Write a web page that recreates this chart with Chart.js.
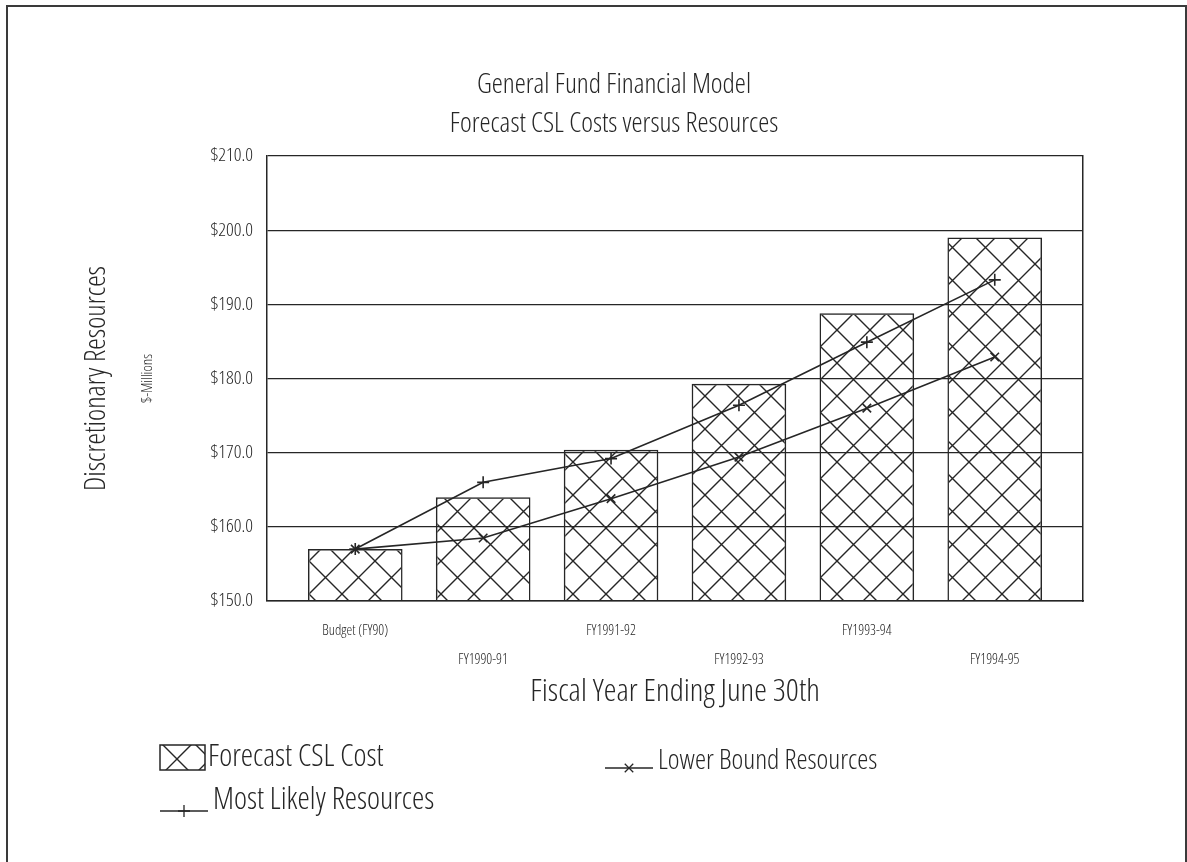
<!DOCTYPE html>
<html>
<head>
<meta charset="utf-8">
<script src="https://cdn.jsdelivr.net/npm/chart.js@4.4.1/dist/chart.umd.min.js"></script>
<style>
  html, body { margin: 0; padding: 0; background: #fff; overflow: hidden; }
  #page { position: relative; width: 1187px; height: 862px; }
  #frame { position: absolute; left: 6px; top: 5px; width: 1181px; height: 900px;
           border: 2px solid #3a3a3a; border-bottom: none; box-sizing: border-box; }
  #wrap { position: absolute; left: 45px; top: 0; width: 1138px; height: 862px; }
</style>
</head>
<body>
<div id="page">
  <div id="frame"></div>
  <div id="wrap"><canvas id="c" width="1138" height="862"></canvas></div>
</div>
<script>
// ---- data ----
const categories = ['Budget (FY90)', 'FY1990-91', 'FY1991-92', 'FY1992-93', 'FY1993-94', 'FY1994-95'];
const forecastCost = [157.0, 164.0, 170.4, 179.3, 188.8, 199.0];
const lowerBound   = [157.0, 158.5, 163.8, 169.4, 176.0, 182.9];
const mostLikely   = [157.0, 166.0, 169.2, 176.4, 184.9, 193.3];
const yTickValues  = [150, 160, 170, 180, 190, 200, 210];

const titleLines = ['General Fund Financial Model', 'Forecast CSL Costs versus Resources'];
const xTitle = 'Fiscal Year Ending June 30th';
const yTitle = 'Discretionary Resources';
const yUnits = '$-Millions';

// ---- styling ----
const INK = '#262626';
const FONT = "'Open Sans', 'DejaVu Sans Condensed', sans-serif";
const WEIGHT = '300 condensed';   // light, narrow face
Chart.defaults.font.family = FONT;
Chart.defaults.font.weight = WEIGHT;
Chart.defaults.color = INK;

const canvas = document.getElementById('c');
const ctx = canvas.getContext('2d');

// diagonal cross-hatch used for the cost bars
function makeHatch() {
  const s = 33;
  const tile = document.createElement('canvas');
  tile.width = s; tile.height = s;
  const g = tile.getContext('2d');
  g.strokeStyle = INK;
  g.lineWidth = 1.4;
  g.beginPath();
  for (const o of [-s, 0, s]) {
    g.moveTo(o, 0); g.lineTo(o + s, s);
    g.moveTo(o + s, 0); g.lineTo(o, s);
  }
  g.stroke();
  return ctx.createPattern(tile, 'repeat');
}
const hatch = makeHatch();

const xy = vals => vals.map((v, i) => ({ x: i, y: v }));

// key drawn below the axis title, two columns
const seriesKey = {
  id: 'seriesKey',
  afterDraw(chart) {
    const { ctx: c, chartArea: a } = chart;
    const ds = chart.data.datasets;
    c.save();
    c.fillStyle = INK;
    c.strokeStyle = INK;
    c.textBaseline = 'middle';
    c.textAlign = 'left';

    // Forecast CSL Cost (hatched box)
    const bx = a.left - 107, by = a.bottom + 144;
    c.fillStyle = hatch;
    c.fillRect(bx, by, 45, 25);
    c.lineWidth = 1.5;
    c.strokeRect(bx, by, 45, 25);
    c.fillStyle = INK;
    c.font = WEIGHT + ' 31px ' + FONT;
    c.fillText(ds[0].label, bx + 48, a.bottom + 156);

    // line keys
    const lineKey = (d, x, lineY, textY, size) => {
      c.lineWidth = 1.3;
      c.beginPath();
      c.moveTo(x, lineY); c.lineTo(x + 48, lineY);
      c.stroke();
      Chart.helpers.drawPoint(c, { pointStyle: d.pointStyle, radius: 6, borderWidth: 1.4, rotation: 0 }, x + 24, lineY);
      c.font = WEIGHT + ' ' + size + 'px ' + FONT;
      c.fillText(d.label, x + 53, textY);
    };
    lineKey(ds[1], a.left + 338, a.bottom + 167, a.bottom + 160, 28);
    lineKey(ds[2], a.left - 107, a.bottom + 210, a.bottom + 199, 31);
    c.restore();
  }
};

new Chart(ctx, {
  data: {
    datasets: [
      {
        type: 'bar',
        label: 'Forecast CSL Cost',
        data: xy(forecastCost),
        backgroundColor: hatch,
        borderColor: INK,
        borderWidth: 1.5,
        borderSkipped: false,
        barPercentage: 0.74,
        categoryPercentage: 1,
        order: 2
      },
      {
        type: 'line',
        label: 'Lower Bound Resources',
        data: xy(lowerBound),
        borderColor: INK,
        borderWidth: 1.6,
        pointStyle: 'crossRot',
        pointRadius: 6,
        pointBorderWidth: 1.6,
        pointBorderColor: INK,
        pointBackgroundColor: 'transparent',
        tension: 0,
        order: 1
      },
      {
        type: 'line',
        label: 'Most Likely Resources',
        data: xy(mostLikely),
        borderColor: INK,
        borderWidth: 1.6,
        pointStyle: 'cross',
        pointRadius: 6,
        pointBorderWidth: 1.6,
        pointBorderColor: INK,
        pointBackgroundColor: 'transparent',
        tension: 0,
        order: 1
      }
    ]
  },
  options: {
    responsive: false,
    animation: false,
    layout: { padding: { top: 60, left: 0, right: 0, bottom: 151 } },
    plugins: {
      legend: { display: false },
      tooltip: { enabled: false },
      title: {
        display: true,
        text: titleLines,
        color: INK,
        font: { size: 28, weight: WEIGHT, lineHeight: 39 / 28 },
        padding: { top: 5.5, bottom: 12.5 }
      }
    },
    scales: {
      x: {
        type: 'linear',
        min: -0.69,
        max: 5.69,
        offset: false,
        afterBuildTicks: s => { s.ticks = categories.map((_, i) => ({ value: i })); },
        ticks: {
          autoSkip: false,
          maxRotation: 0,
          padding: 15.5,
          font: { size: 14.5, lineHeight: 2 },
          callback: v => (v % 2 ? ['', categories[v]] : categories[v])
        },
        grid: { display: false, drawTicks: false },
        border: { display: true, color: INK, width: 1.5 },
        title: { display: true, text: xTitle, font: { size: 32, lineHeight: 1.2 }, padding: { top: 0, bottom: 0 } },
        afterFit: s => { s.height = 110; }
      },
      y: {
        position: 'left',
        weight: 0,
        min: yTickValues[0],
        max: yTickValues[yTickValues.length - 1],
        afterBuildTicks: s => { s.ticks = yTickValues.map(v => ({ value: v })); },
        ticks: { padding: 14, font: { size: 19 }, callback: v => '$' + Number(v).toFixed(1) },
        grid: { color: INK, lineWidth: 1.2, drawTicks: false },
        border: { display: true, color: INK, width: 1.5 },
        title: { display: true, text: yUnits, font: { size: 15, lineHeight: 1.2 }, padding: { top: 0, bottom: 0 } },
        afterFit: s => { s.width = 128; }
      },
      yOuter: {
        type: 'linear',
        position: 'left',
        weight: 1,
        ticks: { display: false },
        grid: { display: false, drawTicks: false },
        border: { display: false },
        title: { display: true, text: yTitle, font: { size: 29, lineHeight: 1.2 }, padding: { top: 34.6, bottom: 0 } },
        afterFit: s => { s.width = 94; }
      },
      yRight: {
        type: 'linear',
        position: 'right',
        ticks: { display: false },
        grid: { display: false, drawTicks: false },
        border: { display: true, color: INK, width: 1.5 },
        afterFit: s => { s.width = 100; }
      }
    }
  },
  plugins: [seriesKey]
});
</script>
</body>
</html>
